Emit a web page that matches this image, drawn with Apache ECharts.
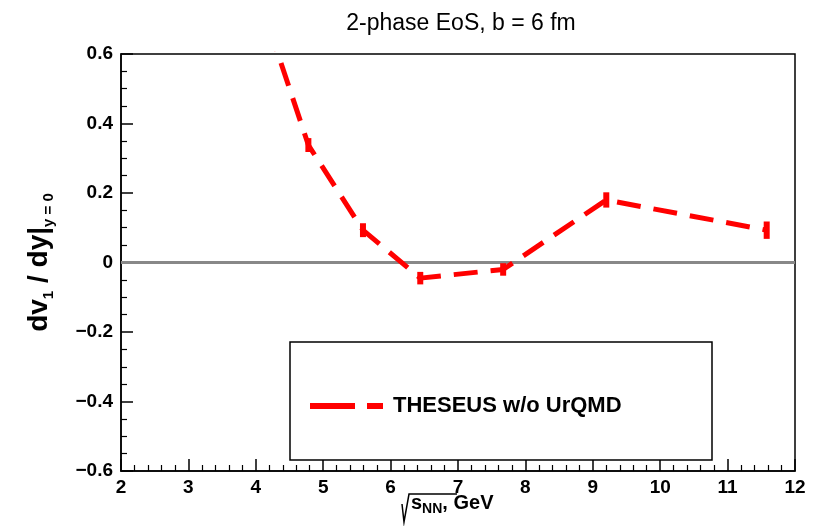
<!DOCTYPE html>
<html>
<head>
<meta charset="utf-8">
<script src="https://cdn.jsdelivr.net/npm/echarts@6/dist/echarts.min.js"></script>
<style>
  html, body { margin: 0; padding: 0; background: #fff; }
  #container { width: 822px; height: 526px; }
</style>
</head>
<body>
<div id="container"></div>
<script>
// data
var sqrtS = [4.2, 4.78, 5.59, 6.44, 7.67, 9.2, 11.58];
var dv1dy = [0.675, 0.338, 0.093, -0.045, -0.02, 0.18, 0.093];
var errX = [4.78, 5.59, 6.44, 7.67, 9.2, 11.58];
var errY = [0.338, 0.093, -0.045, -0.02, 0.18, 0.093];
var errVal = [0.02, 0.02, 0.018, 0.018, 0.022, 0.025];
var seriesName = 'THESEUS w/o UrQMD';

var dom = document.getElementById('container');
var myChart = echarts.init(dom, null, { renderer: 'canvas' });

var lineData = sqrtS.map(function (x, i) { return [x, dv1dy[i]]; });
var errData = errX.map(function (x, i) { return [x, errY[i], errVal[i]]; });

var labelFont = { color: '#000', fontFamily: 'Liberation Sans', fontWeight: 'bold', fontSize: 19 };

var option = {
  animation: false,
  grid: { left: 121, right: 27, top: 54, bottom: 55, show: true, borderColor: '#000', borderWidth: 1.5 },
  title: {
    text: '2-phase EoS, b = 6 fm',
    left: 456, top: 7, textAlign: 'center',
    textStyle: { fontFamily: 'Liberation Sans', fontWeight: 'normal', fontSize: 23, color: '#000' }
  },
  legend: {
    left: 305, top: 390,
    itemWidth: 73, itemHeight: 6,
    data: [{ name: seriesName, icon: 'path://M0,0 L45,0 L45,6 L0,6 Z M57,0 L73,0 L73,6 L57,6 Z' }],
    itemStyle: { color: '#ff0000' },
    textStyle: { fontFamily: 'Liberation Sans', fontWeight: 'bold', fontSize: 22, color: '#000', padding: [0, 0, 0, 5] }
  },
  xAxis: {
    type: 'value', min: 2, max: 12, interval: 1,
    axisLine: { show: true, onZero: false, lineStyle: { color: '#000', width: 1.5 } },
    axisTick: { inside: true, length: 12, lineStyle: { color: '#000', width: 1.5 } },
    minorTick: { show: true, splitNumber: 5, length: 6, lineStyle: { color: '#000', width: 1.2 } },
    splitLine: { show: false },
    axisLabel: Object.assign({ margin: 7 }, labelFont)
  },
  yAxis: {
    type: 'value', min: -0.6, max: 0.6, interval: 0.2,
    axisLine: { show: true, onZero: false, lineStyle: { color: '#000', width: 1.5 } },
    axisTick: { inside: true, length: 12, lineStyle: { color: '#000', width: 1.5 } },
    minorTick: { show: true, splitNumber: 4, length: 6, lineStyle: { color: '#000', width: 1.2 } },
    splitLine: { show: false },
    axisLabel: Object.assign({
      margin: 8,
      formatter: function (v) {
        var r = Math.round(v * 10) / 10;
        if (r === 0) return '0';
        return (r < 0 ? '\u2212' : '') + Math.abs(r).toFixed(1);
      }
    }, labelFont),
    name: '{b|dv}{s|1}{b| / dy|}{s|y = 0}',
    nameLocation: 'middle', nameGap: 65, nameRotate: 90,
    nameTextStyle: {
      rich: {
        b: { fontFamily: 'Liberation Sans', fontWeight: 'bold', fontSize: 28, color: '#000' },
        s: { fontFamily: 'Liberation Sans', fontWeight: 'bold', fontSize: 15, color: '#000', verticalAlign: 'bottom', padding: [19, 0, 0, 0] }
      }
    }
  },
  graphic: [
    {
      type: 'rect', shape: { x: 290, y: 342, width: 422, height: 118 },
      style: { fill: '#fff', stroke: '#000', lineWidth: 1.5 }, z: 1
    },
    {
      type: 'text', left: 411, top: 493,
      style: {
        text: '{b|s}{s|NN}{b|, GeV}',
        rich: {
          b: { fontFamily: 'Liberation Sans', fontWeight: 'bold', fontSize: 20, color: '#000' },
          s: { fontFamily: 'Liberation Sans', fontWeight: 'bold', fontSize: 14, color: '#000', verticalAlign: 'bottom', padding: [12, 0, 0, 0] }
        }
      }
    },
    {
      type: 'polyline',
      shape: { points: [[402, 504], [404, 522], [409, 494], [457, 494]] },
      style: { stroke: '#000', lineWidth: 1.5, fill: null }
    }
  ],
  series: [
    {
      name: seriesName,
      type: 'line',
      data: lineData,
      clip: true,
      symbol: 'none',
      z: 5,
      itemStyle: { color: '#ff0000' },
      lineStyle: { color: '#ff0000', width: 5, type: [24, 13] },
      markLine: {
        silent: true, symbol: 'none', label: { show: false },
        lineStyle: { color: '#888', width: 3, type: 'solid' },
        data: [{ yAxis: 0 }]
      }
    },
    {
      type: 'custom',
      data: errData,
      z: 6,
      renderItem: function (params, api) {
        var x = api.value(0), y = api.value(1), e = api.value(2);
        var p1 = api.coord([x, y + e]);
        var p2 = api.coord([x, y - e]);
        return {
          type: 'line',
          shape: { x1: p1[0], y1: p1[1], x2: p2[0], y2: p2[1] },
          style: { stroke: '#ff0000', lineWidth: 6 }
        };
      }
    }
  ]
};

myChart.setOption(option);
</script>
</body>
</html>
